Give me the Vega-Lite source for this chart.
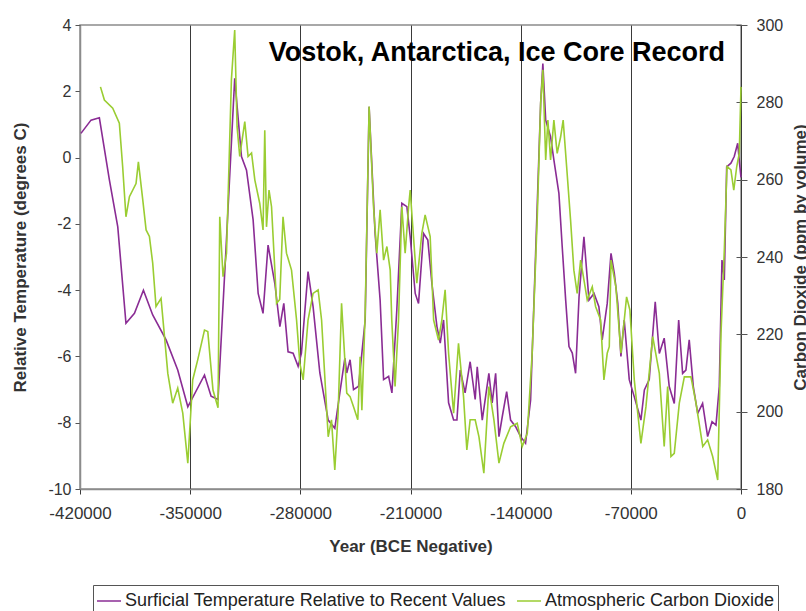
{
  "$schema": "https://vega.github.io/schema/vega-lite/v6.json",
  "autosize": {"type": "none"},
  "padding": {"left": 80, "top": 25, "right": 65, "bottom": 122},
  "width": 661,
  "height": 464,
  "background": "white",
  "title": {
    "text": "Vostok, Antarctica, Ice Core Record",
    "font": "Liberation Sans",
    "fontSize": 27,
    "fontWeight": "bold",
    "color": "#000000",
    "anchor": "end",
    "frame": "group",
    "orient": "top",
    "baseline": "alphabetic",
    "offset": -33,
    "dx": -16,
    "dy": 38
  },
  "datasets": {
    "temp": [
      {"year": -419400, "temp": 0.73}, {"year": -413000, "temp": 1.13}, {"year": -407700, "temp": 1.2},
      {"year": -401300, "temp": -0.68}, {"year": -396000, "temp": -2.09}, {"year": -390800, "temp": -5.0},
      {"year": -385400, "temp": -4.7}, {"year": -379700, "temp": -4.0}, {"year": -373800, "temp": -4.75},
      {"year": -365300, "temp": -5.5}, {"year": -357900, "temp": -6.41}, {"year": -351500, "temp": -7.52},
      {"year": -340900, "temp": -6.56}, {"year": -336700, "temp": -7.2}, {"year": -332300, "temp": -7.3},
      {"year": -327400, "temp": -2.9}, {"year": -321700, "temp": 2.39}, {"year": -317400, "temp": 0.03},
      {"year": -314200, "temp": -0.38}, {"year": -310000, "temp": -1.88}, {"year": -306800, "temp": -4.1},
      {"year": -303700, "temp": -4.7}, {"year": -300500, "temp": -2.64}, {"year": -296200, "temp": -3.8},
      {"year": -293000, "temp": -5.1}, {"year": -290500, "temp": -4.4}, {"year": -287800, "temp": -5.86},
      {"year": -284600, "temp": -5.9}, {"year": -281400, "temp": -6.3}, {"year": -279300, "temp": -5.9},
      {"year": -275100, "temp": -3.44}, {"year": -271900, "temp": -4.5}, {"year": -267600, "temp": -6.5},
      {"year": -262300, "temp": -7.92}, {"year": -258100, "temp": -8.17}, {"year": -254900, "temp": -7.1},
      {"year": -251700, "temp": -6.05}, {"year": -250500, "temp": -6.5}, {"year": -248400, "temp": -6.1},
      {"year": -246200, "temp": -7.0}, {"year": -243000, "temp": -6.9}, {"year": -240900, "temp": -5.9},
      {"year": -238800, "temp": -4.9}, {"year": -236300, "temp": 1.53}, {"year": -232500, "temp": -2.29},
      {"year": -229300, "temp": -4.3}, {"year": -227100, "temp": -6.7}, {"year": -223900, "temp": -6.6},
      {"year": -221800, "temp": -7.1}, {"year": -218700, "temp": -4.6}, {"year": -215500, "temp": -1.38},
      {"year": -212300, "temp": -1.48}, {"year": -210200, "temp": -2.39}, {"year": -207000, "temp": -4.1},
      {"year": -204900, "temp": -4.4}, {"year": -201700, "temp": -2.29}, {"year": -199000, "temp": -2.49},
      {"year": -196400, "temp": -3.8}, {"year": -193200, "temp": -5.1}, {"year": -191100, "temp": -5.6},
      {"year": -189000, "temp": -4.9}, {"year": -185800, "temp": -7.4}, {"year": -182600, "temp": -7.92},
      {"year": -180500, "temp": -7.92}, {"year": -178400, "temp": -6.41}, {"year": -175300, "temp": -7.1},
      {"year": -172100, "temp": -6.16}, {"year": -168900, "temp": -7.3}, {"year": -167600, "temp": -6.31},
      {"year": -164400, "temp": -7.92}, {"year": -160200, "temp": -6.51}, {"year": -158100, "temp": -7.4},
      {"year": -155900, "temp": -6.51}, {"year": -153800, "temp": -8.42}, {"year": -151700, "temp": -7.82},
      {"year": -148900, "temp": -7.06}, {"year": -146400, "temp": -7.92}, {"year": -143200, "temp": -8.12},
      {"year": -140000, "temp": -8.42}, {"year": -136900, "temp": -8.62}, {"year": -133700, "temp": -7.32},
      {"year": -130500, "temp": -2.89}, {"year": -127300, "temp": 1.64}, {"year": -125900, "temp": 2.84},
      {"year": -124100, "temp": 1.13}, {"year": -121000, "temp": 0.63}, {"year": -118900, "temp": -0.07},
      {"year": -115700, "temp": -1.08}, {"year": -113600, "temp": -2.69}, {"year": -111400, "temp": -4.3},
      {"year": -109300, "temp": -5.7}, {"year": -107200, "temp": -5.9}, {"year": -105100, "temp": -6.51},
      {"year": -102900, "temp": -4.2}, {"year": -99800, "temp": -2.39}, {"year": -96600, "temp": -4.3},
      {"year": -93400, "temp": -4.1}, {"year": -90300, "temp": -4.5}, {"year": -88200, "temp": -5.5},
      {"year": -85000, "temp": -4.4}, {"year": -82600, "temp": -2.89}, {"year": -80500, "temp": -3.49},
      {"year": -78300, "temp": -4.4}, {"year": -76300, "temp": -6.0}, {"year": -74200, "temp": -4.9},
      {"year": -71000, "temp": -6.7}, {"year": -67800, "temp": -7.22}, {"year": -63600, "temp": -7.92},
      {"year": -61400, "temp": -7.01}, {"year": -58300, "temp": -6.7}, {"year": -54500, "temp": -4.35},
      {"year": -51900, "temp": -5.91}, {"year": -48800, "temp": -5.45}, {"year": -45600, "temp": -6.91},
      {"year": -42400, "temp": -7.42}, {"year": -39600, "temp": -4.9}, {"year": -37100, "temp": -6.51},
      {"year": -35000, "temp": -6.41}, {"year": -32900, "temp": -5.5}, {"year": -30300, "temp": -6.91},
      {"year": -27500, "temp": -7.72}, {"year": -24400, "temp": -7.42}, {"year": -21200, "temp": -8.42},
      {"year": -18400, "temp": -7.97}, {"year": -15900, "temp": -8.07}, {"year": -13800, "temp": -6.91},
      {"year": -12100, "temp": -3.09}, {"year": -10600, "temp": -3.69}, {"year": -9100, "temp": -0.28},
      {"year": -6400, "temp": -0.17}, {"year": -4300, "temp": 0.03}, {"year": -2100, "temp": 0.43},
      {"year": -700, "temp": -0.28}, {"year": 0, "temp": -0.6}
    ],
    "co2": [
      {"year": -407000, "co2": 284.0}, {"year": -404500, "co2": 280.6}, {"year": -399200, "co2": 278.5},
      {"year": -395000, "co2": 274.6}, {"year": -392900, "co2": 263.4}, {"year": -390800, "co2": 250.4},
      {"year": -388600, "co2": 255.6}, {"year": -384400, "co2": 259.0}, {"year": -382900, "co2": 264.6},
      {"year": -380100, "co2": 254.7}, {"year": -378000, "co2": 247.0}, {"year": -375900, "co2": 245.3},
      {"year": -373800, "co2": 238.4}, {"year": -371700, "co2": 227.2}, {"year": -368500, "co2": 229.3},
      {"year": -366300, "co2": 219.4}, {"year": -364200, "co2": 209.9}, {"year": -361100, "co2": 202.2},
      {"year": -357900, "co2": 206.1}, {"year": -354700, "co2": 199.6}, {"year": -351500, "co2": 186.7},
      {"year": -348400, "co2": 208.2}, {"year": -345200, "co2": 213.4}, {"year": -340900, "co2": 221.1},
      {"year": -338800, "co2": 220.7}, {"year": -335500, "co2": 205.6}, {"year": -332300, "co2": 201.0},
      {"year": -331200, "co2": 250.4}, {"year": -329100, "co2": 234.9}, {"year": -326900, "co2": 241.0},
      {"year": -323800, "co2": 285.8}, {"year": -321700, "co2": 298.7}, {"year": -320200, "co2": 273.7},
      {"year": -318500, "co2": 266.0}, {"year": -315300, "co2": 275.0}, {"year": -313200, "co2": 266.0},
      {"year": -311000, "co2": 266.9}, {"year": -308900, "co2": 259.9}, {"year": -305800, "co2": 253.9},
      {"year": -303700, "co2": 247.0}, {"year": -302600, "co2": 272.8}, {"year": -301500, "co2": 247.8},
      {"year": -299900, "co2": 257.3}, {"year": -298300, "co2": 253.0}, {"year": -295100, "co2": 228.0},
      {"year": -293100, "co2": 229.0}, {"year": -291000, "co2": 250.4}, {"year": -288800, "co2": 241.0},
      {"year": -285600, "co2": 236.6}, {"year": -282400, "co2": 223.7}, {"year": -280300, "co2": 212.5},
      {"year": -278200, "co2": 208.2}, {"year": -275100, "co2": 223.7}, {"year": -271900, "co2": 230.6},
      {"year": -268700, "co2": 231.5}, {"year": -266500, "co2": 223.7}, {"year": -262300, "co2": 193.5},
      {"year": -260200, "co2": 197.9}, {"year": -258100, "co2": 184.9}, {"year": -256000, "co2": 199.6},
      {"year": -253800, "co2": 228.0}, {"year": -250500, "co2": 204.8}, {"year": -248400, "co2": 203.9},
      {"year": -246200, "co2": 201.3}, {"year": -243500, "co2": 197.9}, {"year": -242000, "co2": 214.2},
      {"year": -240900, "co2": 200.4}, {"year": -238800, "co2": 225.4}, {"year": -236300, "co2": 278.9},
      {"year": -233500, "co2": 253.0}, {"year": -231400, "co2": 241.0}, {"year": -229300, "co2": 252.2},
      {"year": -227100, "co2": 239.2}, {"year": -225000, "co2": 242.7}, {"year": -222900, "co2": 236.6},
      {"year": -221900, "co2": 223.7}, {"year": -219800, "co2": 206.5}, {"year": -217600, "co2": 223.7},
      {"year": -215500, "co2": 253.0}, {"year": -213400, "co2": 241.0}, {"year": -211200, "co2": 253.0},
      {"year": -210200, "co2": 257.3}, {"year": -208100, "co2": 245.3}, {"year": -206000, "co2": 233.2},
      {"year": -202800, "co2": 246.1}, {"year": -200700, "co2": 250.9}, {"year": -197500, "co2": 245.3},
      {"year": -195300, "co2": 223.7}, {"year": -192200, "co2": 218.5}, {"year": -190100, "co2": 223.7},
      {"year": -188000, "co2": 231.5}, {"year": -185800, "co2": 215.1}, {"year": -182600, "co2": 199.6},
      {"year": -179500, "co2": 217.7}, {"year": -176300, "co2": 203.9}, {"year": -174200, "co2": 190.1},
      {"year": -172100, "co2": 197.9}, {"year": -168900, "co2": 197.9}, {"year": -166500, "co2": 193.5},
      {"year": -163400, "co2": 184.1}, {"year": -160200, "co2": 206.5}, {"year": -157000, "co2": 197.9},
      {"year": -153800, "co2": 186.7}, {"year": -150700, "co2": 191.8}, {"year": -146400, "co2": 196.1},
      {"year": -142200, "co2": 197.0}, {"year": -139000, "co2": 191.0}, {"year": -135800, "co2": 194.4},
      {"year": -132700, "co2": 215.1}, {"year": -129500, "co2": 249.6}, {"year": -127300, "co2": 279.8},
      {"year": -125900, "co2": 288.4}, {"year": -124100, "co2": 265.1}, {"year": -122700, "co2": 275.4},
      {"year": -121000, "co2": 265.1}, {"year": -118900, "co2": 275.4}, {"year": -116800, "co2": 266.8},
      {"year": -114600, "co2": 271.1}, {"year": -113000, "co2": 275.4}, {"year": -110800, "co2": 263.4},
      {"year": -108300, "co2": 249.6}, {"year": -106200, "co2": 236.6}, {"year": -104100, "co2": 230.6},
      {"year": -101900, "co2": 239.2}, {"year": -99800, "co2": 234.1}, {"year": -97700, "co2": 228.9},
      {"year": -94500, "co2": 232.3}, {"year": -92400, "co2": 227.2}, {"year": -89200, "co2": 223.7},
      {"year": -87100, "co2": 208.2}, {"year": -85000, "co2": 215.1}, {"year": -83700, "co2": 216.8},
      {"year": -82600, "co2": 239.2}, {"year": -79500, "co2": 232.3}, {"year": -76300, "co2": 215.1},
      {"year": -72700, "co2": 229.7}, {"year": -70600, "co2": 226.3}, {"year": -67800, "co2": 208.2},
      {"year": -63600, "co2": 191.8}, {"year": -60400, "co2": 201.3}, {"year": -56100, "co2": 219.4},
      {"year": -51900, "co2": 209.9}, {"year": -48800, "co2": 191.0}, {"year": -46600, "co2": 206.5},
      {"year": -44500, "co2": 188.4}, {"year": -42400, "co2": 189.2}, {"year": -39200, "co2": 202.2},
      {"year": -36000, "co2": 209.0}, {"year": -31800, "co2": 209.0}, {"year": -28600, "co2": 202.2},
      {"year": -24300, "co2": 191.0}, {"year": -21200, "co2": 192.7}, {"year": -18000, "co2": 188.4},
      {"year": -14800, "co2": 182.3}, {"year": -12700, "co2": 220.3}, {"year": -10600, "co2": 241.8},
      {"year": -8900, "co2": 263.4}, {"year": -6400, "co2": 262.5}, {"year": -4600, "co2": 257.3},
      {"year": -2700, "co2": 263.4}, {"year": -1100, "co2": 266.8}, {"year": 0, "co2": 284.0}
    ]
  },
  "config": {
    "view": {"stroke": "#8c8c8c", "strokeWidth": 1.5},
    "font": "Liberation Sans",
    "axis": {
      "labelFont": "Liberation Sans",
      "labelFontSize": 16,
      "labelColor": "#333333",
      "labelFlush": false,
      "titleFont": "Liberation Sans",
      "titleFontSize": 17,
      "titleFontWeight": "bold",
      "titleColor": "#333333",
      "domainColor": "#8c8c8c",
      "domainWidth": 1.5,
      "tickColor": "#555555",
      "tickSize": 5
    },
    "legend": {
      "labelFont": "Liberation Sans",
      "labelFontSize": 18,
      "labelColor": "#222222",
      "labelLimit": 0
    }
  },
  "layer": [
    {
      "data": {"name": "temp"},
      "mark": {"type": "line", "strokeWidth": 1.6, "interpolate": "linear"},
      "encoding": {
        "x": {
          "field": "year",
          "type": "quantitative",
          "scale": {"domain": [-420000, 0], "nice": false, "zero": false},
          "axis": {
            "values": [-420000, -350000, -280000, -210000, -140000, -70000, 0],
            "labelExpr": "toString(datum.value)",
            "labelFontSize": 17,
            "grid": true,
            "gridColor": "#3a3a3a",
            "gridWidth": 1,
            "gridOpacity": 1,
            "tickColor": "#3a3a3a",
            "labelPadding": 11,
            "title": "Year (BCE Negative)",
            "titlePadding": 17
          }
        },
        "y": {
          "field": "temp",
          "type": "quantitative",
          "scale": {"domain": [-10, 4], "nice": false, "zero": false},
          "axis": {
            "orient": "left",
            "values": [-10, -8, -6, -4, -2, 0, 2, 4],
            "labelExpr": "toString(datum.value)",
            "grid": false,
            "labelPadding": 4,
            "title": "Relative Temperature (degrees C)",
            "titlePadding": 18
          }
        },
        "color": {
          "datum": "Surficial Temperature Relative to Recent Values",
          "type": "nominal",
          "scale": {
            "domain": ["Surficial Temperature Relative to Recent Values", "Atmospheric Carbon Dioxide"],
            "range": ["#8a2c94", "#9acd32"]
          },
          "legend": {
            "title": null,
            "orient": "none",
            "legendX": 13,
            "legendY": 560,
            "direction": "horizontal",
            "symbolType": "stroke",
            "symbolSize": 576,
            "symbolStrokeWidth": 1.5,
            "strokeColor": "#555555",
            "padding": 3,
            "columnPadding": 8,
            "labelOffset": 3
          }
        }
      }
    },
    {
      "data": {"name": "co2"},
      "mark": {"type": "line", "strokeWidth": 1.6, "interpolate": "linear"},
      "encoding": {
        "x": {"field": "year", "type": "quantitative"},
        "y": {
          "field": "co2",
          "type": "quantitative",
          "scale": {"domain": [180, 300], "nice": false, "zero": false},
          "axis": {
            "orient": "right",
            "values": [180, 200, 220, 240, 260, 280, 300],
            "grid": false,
            "domain": false,
            "offset": -5,
            "tickSize": 11,
            "labelPadding": 9,
            "title": "Carbon Dioxide (ppm by volume)",
            "titleAngle": -90,
            "titlePadding": 27
          }
        },
        "color": {"datum": "Atmospheric Carbon Dioxide", "type": "nominal"}
      }
    }
  ],
  "resolve": {"scale": {"y": "independent"}}
}
